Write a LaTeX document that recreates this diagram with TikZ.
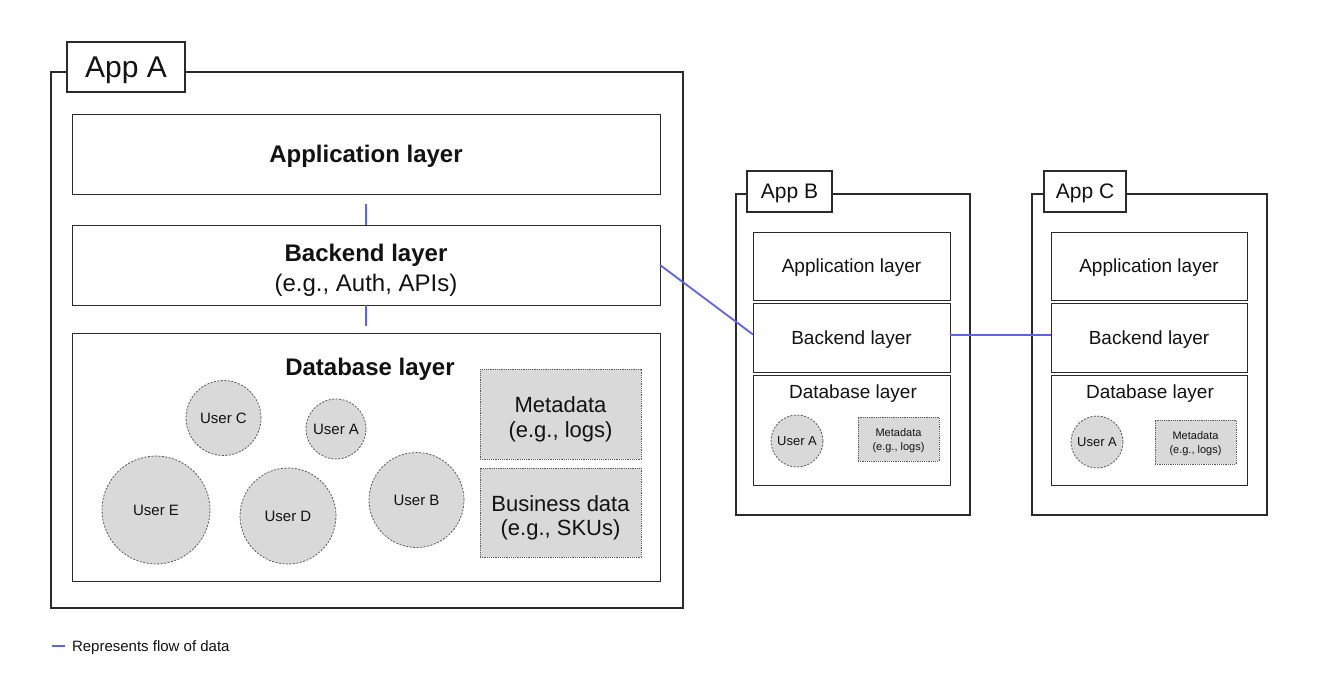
\documentclass[tikz,border=0pt]{standalone}
\usepackage{fontspec}
\setmainfont{Liberation Sans}
\definecolor{flow}{HTML}{5B63E6}
\definecolor{edge}{HTML}{2B2B2B}
\definecolor{cellfill}{HTML}{D9D9D9}
\definecolor{dashc}{HTML}{5A5A5A}
\newcommand{\fs}[1]{\fontsize{#1}{#1}\selectfont}
\tikzset{
  every node/.style={inner sep=0pt, outer sep=0pt, text=black!93},
  outerbox/.style={draw=edge, line width=1.5pt, fill=white},
  tagbox/.style={draw=edge, line width=1.2pt, fill=white, text depth=0pt},
  layerbox/.style={draw=edge, line width=1pt, fill=white, text depth=0pt},
  userdot/.style={circle, draw=dashc, fill=cellfill, line width=0.8pt, dash pattern=on 2pt off 1.5pt},
  databox/.style={draw=dashc, fill=cellfill, line width=0.8pt, dash pattern=on 1.2pt off 1pt},
  caption/.style={align=center},
  flowline/.style={draw=flow, line width=1.8pt},
}
\begin{document}
\begin{tikzpicture}[x=1pt,y=-1pt]
\useasboundingbox (0,0) rectangle (1320,693);

% ---------------- App A ----------------
\node[outerbox, minimum width=632, minimum height=536] (outA) at (367,340) {};
\node[tagbox, minimum width=118, minimum height=50, font=\fs{30}] (tagA) at (126,67) {App A};
\node[layerbox, minimum width=588, minimum height=80, font=\fs{24}\bfseries] (appA) at (366,154) {Application layer};
\node[layerbox, minimum width=588, minimum height=80] (backA) at (366,265) {};
\node[caption, font=\fontsize{24}{30}\selectfont] (backAt) at (366,270) {\textbf{Backend layer}\\(e.g., Auth, APIs)};
\node[layerbox, minimum width=588, minimum height=248] (dbA) at (366,457) {};
\node[font=\fs{24}\bfseries] (dbAt) at (370,369) {Database layer};
\node[databox, minimum width=161, minimum height=90] (metaA) at (560.5,414) {};
\node[caption, font=\fontsize{22}{25}\selectfont] (metaAt) at (560.5,419) {Metadata\\(e.g., logs)};
\node[databox, minimum width=161, minimum height=89] (busA) at (560.5,512.5) {};
\node[caption, font=\fontsize{22}{24}\selectfont] (busAt) at (560.5,517.5) {Business data\\(e.g., SKUs)};
\node[userdot, minimum size=75, font=\fs{15}] (uC) at (223.5,418) {User C};
\node[userdot, minimum size=60, font=\fs{15}] (uA) at (336,429) {User A};
\node[userdot, minimum size=108, font=\fs{15}] (uE) at (156,510) {User E};
\node[userdot, minimum size=96, font=\fs{15}] (uD) at (288,516) {User D};
\node[userdot, minimum size=95, font=\fs{15}] (uB) at (416.5,500) {User B};

% ---------------- App B ----------------
\node[outerbox, minimum width=234, minimum height=321] (outB) at (853,354.5) {};
\node[tagbox, minimum width=85, minimum height=41, font=\fs{21}] (tagB) at (789.5,191.5) {App B};
\node[layerbox, minimum width=197, minimum height=68, font=\fs{19}] (appB) at (851.5,266) {Application layer};
\node[layerbox, minimum width=197, minimum height=69, font=\fs{19}] (backB) at (851.5,337.5) {Backend layer};
\node[layerbox, minimum width=197, minimum height=110] (dbB) at (851.5,430) {};
\node[font=\fs{19}] (dbBt) at (853,394) {Database layer};
\node[userdot, minimum size=52, font=\fs{13}] (uAB) at (797,441) {User A};
\node[databox, minimum width=81, minimum height=44] (metaB) at (898.5,439) {};
\node[caption, font=\fontsize{11}{14}\selectfont] (metaBt) at (898.5,440.5) {Metadata\\(e.g., logs)};

% ---------------- App C ----------------
\node[outerbox, minimum width=235, minimum height=321] (outC) at (1149.5,354.5) {};
\node[tagbox, minimum width=82, minimum height=41, font=\fs{21}] (tagC) at (1085,191.5) {App C};
\node[layerbox, minimum width=196, minimum height=68, font=\fs{19}] (appC) at (1149,266) {Application layer};
\node[layerbox, minimum width=196, minimum height=69, font=\fs{19}] (backC) at (1149,337.5) {Backend layer};
\node[layerbox, minimum width=196, minimum height=110] (dbC) at (1149,430) {};
\node[font=\fs{19}] (dbCt) at (1150,394) {Database layer};
\node[userdot, minimum size=52, font=\fs{13}] (uAC) at (1097,442) {User A};
\node[databox, minimum width=81, minimum height=44] (metaC) at (1195.5,442) {};
\node[caption, font=\fontsize{11}{14}\selectfont] (metaCt) at (1195.5,443.5) {Metadata\\(e.g., logs)};

% ---------------- data flow ----------------
\draw[flowline] ([yshift=-10pt]appA.south) -- (backA.north);
\draw[flowline] (backA.south) -- ([yshift=7pt]dbA.north);
\draw[flowline] (backA.east) -- ([yshift=3pt]backB.west);
\draw[flowline] ([yshift=2.5pt]backB.east) -- ([yshift=2.5pt]backC.west);

% ---------------- legend ----------------
\coordinate (lg1) at (52,646);
\coordinate (lg2) at (65,646);
\draw[flowline] (lg1) -- (lg2);
\node[anchor=west, font=\fs{15}] (legend) at (72,648) {Represents flow of data};
\end{tikzpicture}
\end{document}
